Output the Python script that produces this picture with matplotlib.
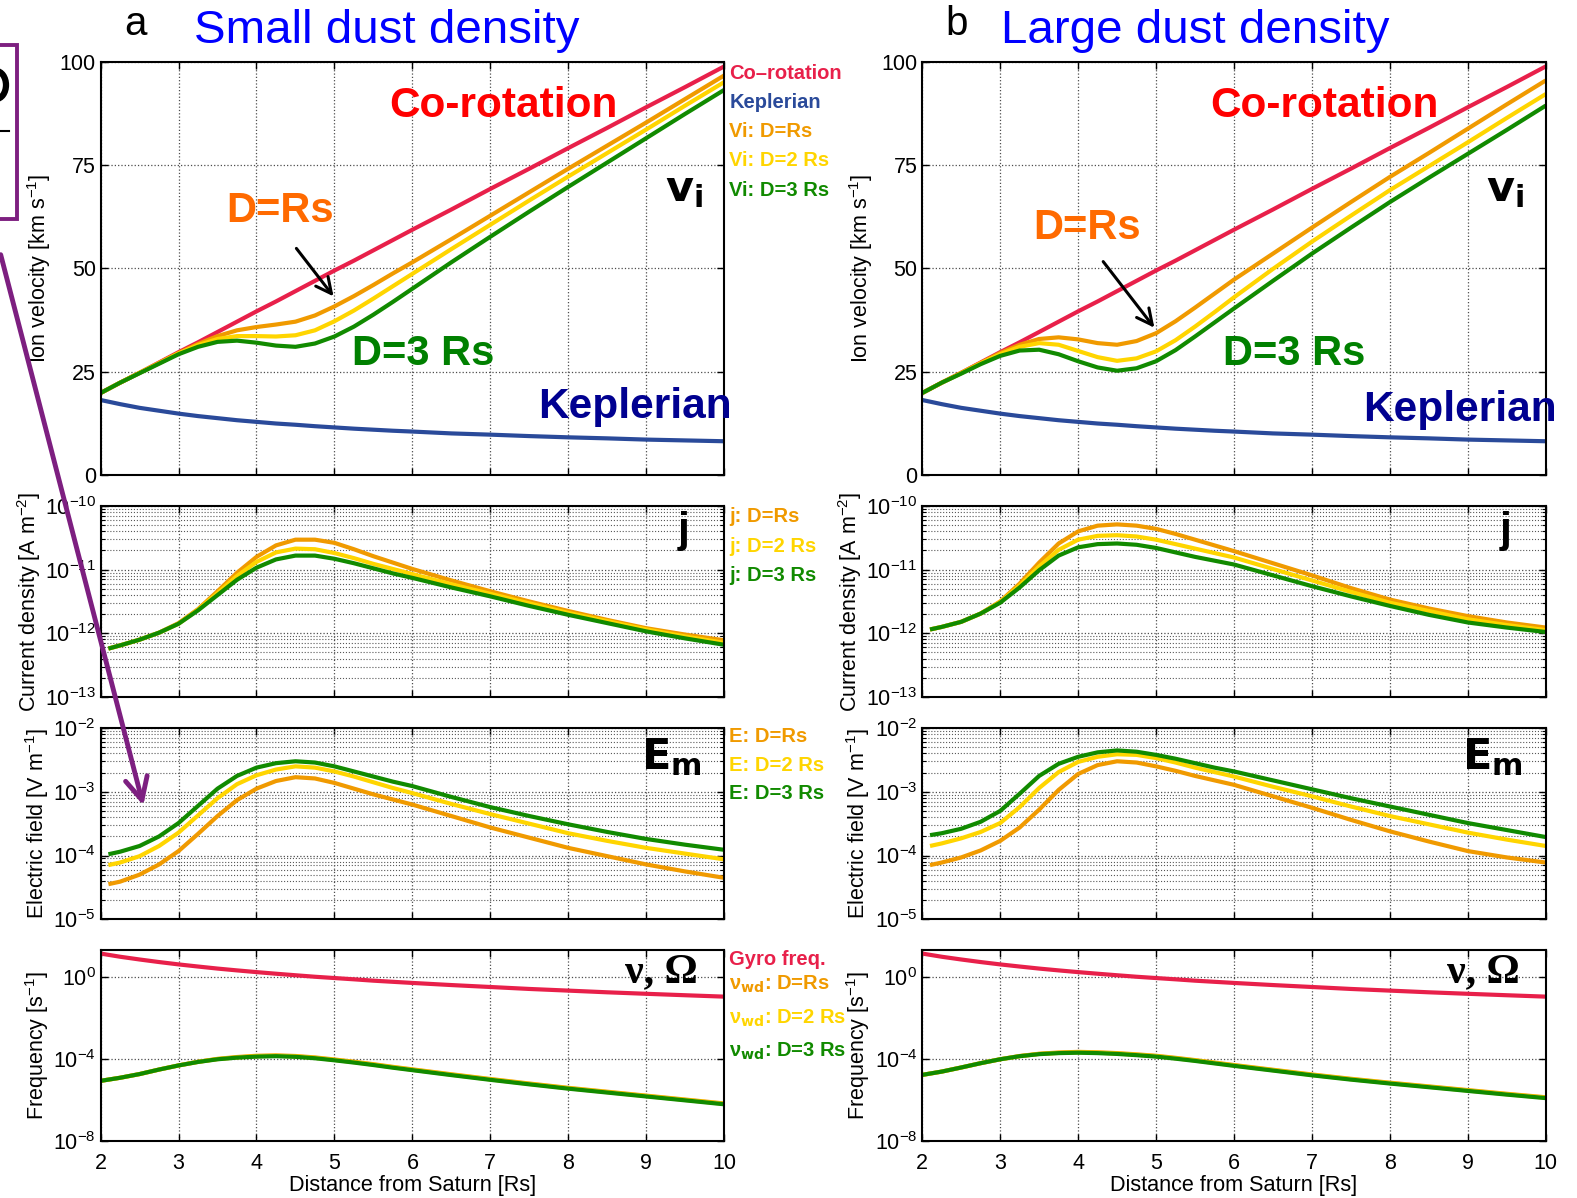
import numpy as np
import matplotlib
matplotlib.use('Agg')
import matplotlib.pyplot as plt
from matplotlib.patches import FancyArrowPatch, Rectangle, Ellipse
from matplotlib.lines import Line2D
from matplotlib.ticker import NullLocator

plt.rcParams['font.family'] = ['Liberation Sans', 'DejaVu Sans']
plt.rcParams['mathtext.default'] = 'regular'

# ---- data ----
# radial distance grids [Rs]
r_v = [2, 2.25, 2.5, 2.75, 3, 3.25, 3.5, 3.75, 4, 4.25, 4.5, 4.75, 5,
       5.25, 5.5, 5.75, 6, 6.5, 7, 7.5, 8, 8.5, 9, 9.5, 10]
r_je = [2.1, 2.25, 2.5, 2.75, 3, 3.25, 3.5, 3.75, 4, 4.25, 4.5, 4.75, 5,
        5.25, 5.5, 5.75, 6, 6.5, 7, 7.5, 8, 8.5, 9, 9.5, 10]

# velocities [km/s]
v_corot = [19.8, 22.3, 24.7, 27.2, 29.7, 32.1, 34.6, 37.1, 39.6, 42.0, 44.5, 47.0, 49.5,
           51.9, 54.4, 56.9, 59.4, 64.3, 69.3, 74.2, 79.2, 84.1, 89.1, 94.0, 99.0]
v_kepler = [18.1, 17.1, 16.2, 15.5, 14.8, 14.2, 13.7, 13.2, 12.8, 12.4, 12.1, 11.75, 11.45,
            11.15, 10.9, 10.65, 10.45, 10.0, 9.7, 9.35, 9.05, 8.8, 8.5, 8.3, 8.1]
# small dust density
vi_small_1 = [19.8, 22.3, 24.7, 27.1, 29.5, 31.7, 33.6, 35.0, 35.8, 36.4, 37.1, 38.6, 40.8,
              43.3, 46.0, 48.8, 51.5, 57.1, 62.8, 68.5, 74.2, 79.8, 85.4, 91.1, 96.8]
vi_small_2 = [19.8, 22.3, 24.7, 27.0, 29.4, 31.4, 32.9, 33.6, 33.6, 33.5, 33.8, 35.0, 37.2,
              39.8, 42.7, 45.7, 48.7, 54.7, 60.6, 66.5, 72.3, 78.0, 83.7, 89.5, 95.2]
vi_small_3 = [19.8, 22.3, 24.6, 26.9, 29.2, 31.0, 32.2, 32.5, 32.0, 31.3, 31.0, 31.8, 33.5,
              35.9, 38.8, 41.9, 45.1, 51.5, 57.7, 63.8, 69.8, 75.7, 81.6, 87.5, 93.3]
# large dust density
vi_large_1 = [19.8, 22.3, 24.7, 27.1, 29.5, 31.5, 32.9, 33.3, 32.8, 31.9, 31.5, 32.4, 34.3,
              37.2, 40.5, 43.9, 47.3, 53.6, 59.9, 66.1, 72.2, 78.0, 83.9, 89.8, 95.6]
vi_large_2 = [19.8, 22.3, 24.6, 27.0, 29.2, 31.0, 31.9, 31.5, 30.0, 28.5, 27.6, 28.2, 29.9,
              32.6, 35.9, 39.4, 43.0, 49.9, 56.5, 62.8, 69.0, 74.8, 80.6, 86.5, 92.3]
vi_large_3 = [19.8, 22.3, 24.5, 26.8, 28.8, 30.1, 30.3, 29.2, 27.5, 26.0, 25.2, 25.8, 27.5,
              30.2, 33.5, 36.9, 40.3, 47.0, 53.6, 59.9, 66.1, 72.0, 77.8, 83.6, 89.5]

# current density, log10 [A m^-2]
logj_small_1 = [-12.24, -12.19, -12.10, -11.99, -11.84, -11.62, -11.34, -11.05, -10.80, -10.62, -10.53, -10.53, -10.58,
                -10.68, -10.79, -10.89, -10.99, -11.17, -11.34, -11.50, -11.65, -11.79, -11.92, -12.02, -12.11]
logj_small_2 = [-12.24, -12.19, -12.10, -11.99, -11.85, -11.63, -11.37, -11.10, -10.88, -10.73, -10.67, -10.68, -10.74,
                -10.82, -10.91, -10.99, -11.07, -11.23, -11.38, -11.53, -11.68, -11.81, -11.94, -12.05, -12.15]
logj_small_3 = [-12.24, -12.19, -12.10, -11.99, -11.85, -11.64, -11.40, -11.16, -10.97, -10.84, -10.78, -10.78, -10.83,
                -10.90, -10.98, -11.06, -11.13, -11.28, -11.42, -11.57, -11.71, -11.84, -11.97, -12.08, -12.18]
logj_large_1 = [-11.94, -11.90, -11.82, -11.69, -11.50, -11.22, -10.89, -10.59, -10.40, -10.31, -10.29, -10.31, -10.36,
                -10.44, -10.53, -10.62, -10.71, -10.90, -11.09, -11.29, -11.47, -11.61, -11.73, -11.83, -11.91]
logj_large_2 = [-11.94, -11.90, -11.82, -11.69, -11.51, -11.25, -10.95, -10.69, -10.53, -10.47, -10.46, -10.48, -10.53,
                -10.60, -10.67, -10.74, -10.81, -10.99, -11.17, -11.35, -11.52, -11.65, -11.78, -11.87, -11.95]
logj_large_3 = [-11.94, -11.90, -11.82, -11.69, -11.52, -11.28, -11.01, -10.78, -10.65, -10.60, -10.59, -10.61, -10.66,
                -10.73, -10.80, -10.86, -10.92, -11.09, -11.26, -11.42, -11.57, -11.71, -11.83, -11.91, -11.98]

# electric field, log10 [V m^-1]
logE_small_1 = [-4.45, -4.41, -4.30, -4.14, -3.93, -3.66, -3.38, -3.13, -2.95, -2.83, -2.77, -2.79, -2.86,
                -2.95, -3.04, -3.12, -3.20, -3.38, -3.56, -3.72, -3.88, -4.01, -4.14, -4.25, -4.35]
logE_small_2 = [-4.15, -4.11, -4.01, -3.85, -3.64, -3.37, -3.10, -2.88, -2.74, -2.65, -2.60, -2.62, -2.68,
                -2.76, -2.85, -2.94, -3.02, -3.19, -3.35, -3.50, -3.65, -3.77, -3.88, -3.97, -4.06]
logE_small_3 = [-3.98, -3.94, -3.85, -3.70, -3.49, -3.22, -2.95, -2.75, -2.62, -2.55, -2.52, -2.54, -2.60,
                -2.68, -2.76, -2.84, -2.91, -3.08, -3.24, -3.38, -3.51, -3.63, -3.74, -3.83, -3.91]
logE_large_1 = [-4.15, -4.11, -4.03, -3.92, -3.77, -3.56, -3.28, -2.97, -2.72, -2.58, -2.52, -2.54, -2.60,
                -2.67, -2.75, -2.82, -2.89, -3.07, -3.25, -3.44, -3.62, -3.78, -3.93, -4.03, -4.11]
logE_large_2 = [-3.85, -3.81, -3.73, -3.63, -3.49, -3.24, -2.94, -2.69, -2.53, -2.45, -2.41, -2.42, -2.47,
                -2.54, -2.62, -2.69, -2.76, -2.92, -3.07, -3.23, -3.38, -3.51, -3.64, -3.75, -3.85]
logE_large_3 = [-3.68, -3.65, -3.58, -3.47, -3.30, -3.03, -2.75, -2.56, -2.45, -2.38, -2.35, -2.37, -2.42,
                -2.48, -2.55, -2.62, -2.68, -2.82, -2.96, -3.10, -3.23, -3.36, -3.49, -3.60, -3.71]

# frequencies [s^-1]
gyro = [14.0, 9.8, 7.2, 5.4, 4.15, 3.27, 2.6, 2.12, 1.75, 1.46, 1.23, 1.04, 0.9,
        0.78, 0.67, 0.59, 0.52, 0.41, 0.33, 0.265, 0.22, 0.182, 0.154, 0.131, 0.112]
lognu_small_1 = [-5.05, -4.90, -4.72, -4.50, -4.30, -4.12, -3.98, -3.89, -3.83, -3.81, -3.84, -3.91, -4.01,
                 -4.12, -4.24, -4.37, -4.49, -4.73, -4.96, -5.18, -5.39, -5.58, -5.77, -5.96, -6.15]
lognu_small_2 = [-5.05, -4.90, -4.72, -4.50, -4.30, -4.13, -3.99, -3.91, -3.85, -3.83, -3.86, -3.93, -4.03,
                 -4.14, -4.26, -4.39, -4.51, -4.75, -4.98, -5.20, -5.41, -5.60, -5.79, -5.98, -6.17]
lognu_small_3 = [-5.05, -4.90, -4.72, -4.50, -4.30, -4.13, -4.00, -3.92, -3.87, -3.85, -3.88, -3.95, -4.05,
                 -4.16, -4.28, -4.41, -4.53, -4.77, -5.00, -5.22, -5.43, -5.62, -5.81, -6.00, -6.19]
lognu_large_1 = [-4.76, -4.60, -4.40, -4.19, -4.00, -3.84, -3.73, -3.67, -3.64, -3.66, -3.70, -3.76, -3.83,
                 -3.93, -4.04, -4.16, -4.28, -4.51, -4.74, -4.95, -5.14, -5.32, -5.50, -5.68, -5.85]
lognu_large_2 = [-4.76, -4.60, -4.40, -4.19, -4.00, -3.85, -3.74, -3.69, -3.66, -3.68, -3.72, -3.78, -3.85,
                 -3.95, -4.06, -4.18, -4.30, -4.53, -4.76, -4.97, -5.16, -5.34, -5.52, -5.70, -5.87]
lognu_large_3 = [-4.76, -4.60, -4.40, -4.19, -4.00, -3.85, -3.75, -3.70, -3.68, -3.70, -3.74, -3.80, -3.87,
                 -3.97, -4.08, -4.20, -4.32, -4.55, -4.78, -4.99, -5.18, -5.36, -5.54, -5.72, -5.89]

# colours
c_red = '#e8204a'
c_kep = '#2a4a9a'
c_or = '#f09a00'
c_ye = '#ffd500'
c_gr = '#118a00'
c_purple = '#7d1f80'
lw = 3.0

W, H = 1577, 1198
fig = plt.figure(figsize=(W / 100, H / 100), dpi=100)
col_x = [0.0638, 0.5848]
col_w = 0.3954
rows = [(0.6038, 0.3442), (0.4182, 0.1595), (0.2327, 0.1595), (0.0472, 0.1595)]
ylab_x = [-0.076, -0.093, -0.080, -0.080]   # MATLAB puts each label left of its tick labels
TICK = 15.5
YLAB = 15.5
LEG = 14.5
BIG = 30.5


def style(ax, row, log=False, bottom=False):
    ax.set_xlim(2, 10)
    ax.set_xticks(range(2, 11))
    ax.tick_params(direction='in', top=True, right=True, labelsize=TICK,
                   length=5, width=1)
    ax.tick_params(axis='x', pad=8)
    ax.grid(True, which='major', ls=':', color='0.3', lw=0.9)
    if log:
        ax.tick_params(which='minor', direction='in', left=True, right=True,
                       length=3, width=0.8)
        ax.grid(True, which='minor', axis='y', ls=':', color='0.35', lw=0.8)
    ax.xaxis.set_minor_locator(NullLocator())
    for s in ax.spines.values():
        s.set_linewidth(1.5)
    if bottom:
        ax.set_xlabel('Distance from Saturn [Rs]', fontsize=15.6, labelpad=1)
    else:
        ax.set_xticklabels([])
    ax.yaxis.set_label_coords(ylab_x[row], 0.5)


def line(ax, x, y, col):
    ax.plot(x, y, color=col, lw=lw, solid_joinstyle='round', solid_capstyle='butt')


sets = [
    dict(vi=(vi_small_1, vi_small_2, vi_small_3), j=(logj_small_1, logj_small_2, logj_small_3),
         E=(logE_small_1, logE_small_2, logE_small_3), nu=(lognu_small_1, lognu_small_2, lognu_small_3)),
    dict(vi=(vi_large_1, vi_large_2, vi_large_3), j=(logj_large_1, logj_large_2, logj_large_3),
         E=(logE_large_1, logE_large_2, logE_large_3), nu=(lognu_large_1, lognu_large_2, lognu_large_3)),
]

# text positions per column (data coords)
ann = [
    dict(corot=(7.17, 89.3), drs=(4.30, 63.9), d3=(6.14, 29.3), kep=(8.86, 16.3),
         arr=((4.49, 55.4), (5.01, 42.7))),
    dict(corot=(7.16, 89.3), drs=(4.11, 59.8), d3=(6.77, 29.3), kep=(8.90, 15.6),
         arr=((4.30, 52.2), (5.00, 35.1))),
]

for c in range(2):
    d = sets[c]
    a = ann[c]
    axes = [fig.add_axes([col_x[c], b, col_w, h]) for b, h in rows]

    # ---- ion velocity ----
    ax = axes[0]
    line(ax, r_v, v_corot, c_red)
    line(ax, r_v, v_kepler, c_kep)
    for v, col in zip(d['vi'], (c_or, c_ye, c_gr)):
        line(ax, r_v, v, col)
    ax.set_ylim(0, 100)
    ax.set_yticks([0, 25, 50, 75, 100])
    ax.set_ylabel('Ion velocity [km s$^{-1}$]', fontsize=YLAB)
    style(ax, 0)
    ax.text(*a['corot'], 'Co-rotation', color='#ff0000', fontsize=BIG,
            fontweight='bold', ha='center', va='center')
    ax.text(*a['drs'], 'D=Rs', color='#ff6a00', fontsize=BIG - 0.5,
            fontweight='bold', ha='center', va='center')
    ax.text(*a['d3'], 'D=3 Rs', color='#008000', fontsize=BIG - 0.5,
            fontweight='bold', ha='center', va='center')
    ax.text(*a['kep'], 'Keplerian', color='#000090', fontsize=BIG,
            fontweight='bold', ha='center', va='center')
    ax.text(0.935, 0.69, r'$\mathbf{v_i}$', transform=ax.transAxes,
            fontsize=31, ha='center', va='center')
    ax.annotate('', xy=a['arr'][1], xytext=a['arr'][0],
                arrowprops=dict(arrowstyle='->', color='k', lw=2.2,
                                mutation_scale=28))

    # ---- current density ----
    ax = axes[1]
    for v, col in zip(d['j'], (c_or, c_ye, c_gr)):
        line(ax, r_je, 10 ** np.array(v), col)
    ax.set_yscale('log')
    ax.set_ylim(1e-13, 1e-10)
    ax.set_yticks([1e-13, 1e-12, 1e-11, 1e-10])
    ax.set_ylabel('Current density [A m$^{-2}$]', fontsize=YLAB)
    style(ax, 1, log=True)
    ax.text(0.935, 0.87, 'j', transform=ax.transAxes, fontsize=31,
            fontweight='bold', ha='center', va='center')

    # ---- electric field ----
    ax = axes[2]
    for v, col in zip(d['E'], (c_or, c_ye, c_gr)):
        line(ax, r_je, 10 ** np.array(v), col)
    ax.set_yscale('log')
    ax.set_ylim(1e-5, 1e-2)
    ax.set_yticks([1e-5, 1e-4, 1e-3, 1e-2])
    ax.set_ylabel('Electric field [V m$^{-1}$]', fontsize=YLAB)
    style(ax, 2, log=True)
    ax.text(0.915, 0.85, r'$\mathbf{E_m}$', transform=ax.transAxes,
            fontsize=31, ha='center', va='center')

    # ---- frequencies ----
    ax = axes[3]
    line(ax, r_v, gyro, c_red)
    for v, col in zip(d['nu'], (c_or, c_ye, c_gr)):
        line(ax, r_v, 10 ** np.array(v), col)
    ax.set_yscale('log')
    ax.set_ylim(1e-8, 20)
    ax.set_yticks([1e-8, 1e-4, 1e0])
    ax.yaxis.set_minor_locator(NullLocator())
    ax.set_ylabel('Frequency [s$^{-1}$]', fontsize=YLAB)
    style(ax, 3, bottom=True)
    ax.text(0.9, 0.885, 'ν, Ω', transform=ax.transAxes, fontsize=30,
            fontweight='bold', family='Liberation Serif', ha='center', va='center')

    if c == 0:
        lab = dict(fontsize=LEG, fontweight='bold', ha='left', va='center')
        for y, t, col in [(0.973, 'Co–rotation', c_red), (0.902, 'Keplerian', c_kep),
                          (0.832, 'Vi: D=Rs', c_or), (0.761, 'Vi: D=2 Rs', c_ye),
                          (0.690, 'Vi: D=3 Rs', c_gr)]:
            axes[0].text(1.008, y, t, color=col, transform=axes[0].transAxes, **lab)
        for y, t, col in [(0.942, 'j: D=Rs', c_or), (0.789, 'j: D=2 Rs', c_ye),
                          (0.637, 'j: D=3 Rs', c_gr)]:
            axes[1].text(1.008, y, t, color=col, transform=axes[1].transAxes, **lab)
        for y, t, col in [(0.958, 'E: D=Rs', c_or), (0.805, 'E: D=2 Rs', c_ye),
                          (0.658, 'E: D=3 Rs', c_gr)]:
            axes[2].text(1.008, y, t, color=col, transform=axes[2].transAxes, **lab)
        for y, t, col in [(0.953, 'Gyro freq.', c_red),
                          (0.820, r'$\nu_{\mathbf{wd}}$: D=Rs', c_or),
                          (0.646, r'$\nu_{\mathbf{wd}}$: D=2 Rs', c_ye),
                          (0.472, r'$\nu_{\mathbf{wd}}$: D=3 Rs', c_gr)]:
            axes[3].text(1.008, y, t, color=col, transform=axes[3].transAxes, **lab)

# panel titles
fig.text(136 / W, 1 - 24 / H, 'a', fontsize=29, ha='center', va='center')
fig.text(194 / W, 1 - 31 / H, 'Small dust density', fontsize=34.2,
         color='#0000ff', ha='left', va='center')
fig.text(957 / W, 1 - 24 / H, 'b', fontsize=29, ha='center', va='center')
fig.text(1001 / W, 1 - 31 / H, 'Large dust density', fontsize=34.2,
         color='#0000ff', ha='left', va='center')

# purple frame, cropped glyph and arrow at the left edge
fig.add_artist(Rectangle((-0.01, 1 - 219 / H), 0.0210, 174 / H,
                         transform=fig.transFigure, fill=False, lw=2.8,
                         ec=c_purple, clip_on=False))
fig.add_artist(Ellipse((-4 / W, 1 - 85 / H), 20 / W, 28 / H, transform=fig.transFigure,
                       fill=False, lw=4.5, ec='k'))
fig.add_artist(Line2D([0, 0.006], [1 - 131 / H] * 2, color='k', lw=1.5,
                      transform=fig.transFigure))
fig.add_artist(FancyArrowPatch((0.0, 1 - 252 / H), (144 / W, 1 - 808 / H),
                               transform=fig.transFigure, arrowstyle='->',
                               mutation_scale=40, lw=3.5, color=c_purple))

fig.savefig('out.png', dpi=100)
